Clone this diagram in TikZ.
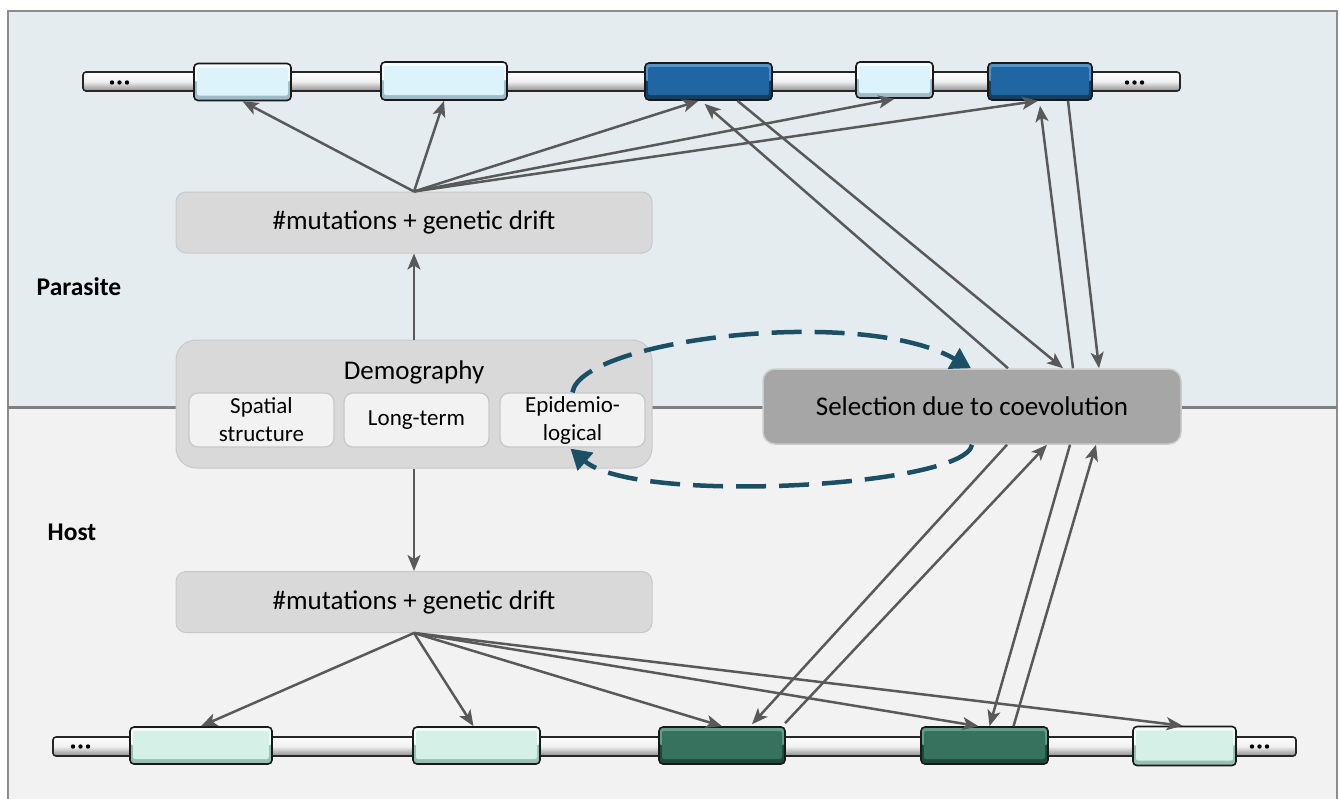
\documentclass[tikz,border=0pt]{standalone}
\usepackage{fontspec}
\setmainfont{Carlito}
\usetikzlibrary{arrows.meta,calc}
\definecolor{topbg}{HTML}{E4ECF0}
\definecolor{botbg}{HTML}{F2F2F2}
\definecolor{framegray}{HTML}{8C8C8C}
\definecolor{divgray}{HTML}{7F7F7F}
\definecolor{arrgray}{HTML}{595959}
\definecolor{teal1}{HTML}{1B4F66}
\definecolor{boxgray}{HTML}{D9D9D9}
\definecolor{boxedge}{HTML}{C8C8C8}
\definecolor{subfill}{HTML}{F2F2F2}
\definecolor{selfill}{HTML}{A6A6A6}
\definecolor{lbBase}{HTML}{DDF3FB}
\definecolor{lbLight}{HTML}{F6FCFE}
\definecolor{lbDark}{HTML}{9DBCC8}
\definecolor{dbBase}{HTML}{1F66A3}
\definecolor{dbLight}{HTML}{5592C8}
\definecolor{dbDark}{HTML}{123F66}
\definecolor{mBase}{HTML}{D4F0E7}
\definecolor{mLight}{HTML}{F3FCF9}
\definecolor{mDark}{HTML}{98C0B2}
\definecolor{dgBase}{HTML}{37725F}
\definecolor{dgLight}{HTML}{629E8A}
\definecolor{dgDark}{HTML}{1E4A3C}
\newcommand\genebox[8]{%
  \node[gene, minimum width=#4pt, minimum height=#5pt, fill=#8,
    path picture={
      \fill[#7] (path picture bounding box.north west) rectangle (path picture bounding box.east);
      \fill[#6, rounded corners=2pt] ([shift={(3pt,5pt)}]path picture bounding box.south west) rectangle ([shift={(-3pt,-4pt)}]path picture bounding box.north east);
    }] (#1) at (#2,#3) {};}
\begin{document}
\begin{tikzpicture}[x=1pt,y=-1pt,
  gene/.style={draw=black!90, line width=1.6pt, rounded corners=4pt, inner sep=0pt},
  chrom/.style={draw=black!85, line width=1.6pt, rounded corners=3pt, inner sep=0pt,
    top color=white, bottom color=black!45, middle color=black!6},
  mutbox/.style={draw=boxedge, fill=boxgray, line width=1pt, rounded corners=10pt,
    minimum width=476pt, minimum height=61pt, inner sep=0pt,
    font=\fontsize{27}{32}\selectfont},
  demobox/.style={draw=boxedge, fill=boxgray, line width=1pt, rounded corners=20pt,
    minimum width=476pt, minimum height=128pt, inner sep=0pt},
  subbox/.style={draw=black!22, fill=subfill, line width=1.2pt, rounded corners=9pt,
    minimum width=145pt, minimum height=54pt, inner sep=0pt, align=center,
    font=\fontsize{23}{28}\selectfont},
  selbox/.style={draw=black!20, fill=selfill, line width=1.5pt, rounded corners=12pt,
    minimum width=418pt, minimum height=75pt, inner sep=0pt,
    font=\fontsize{27}{32}\selectfont},
  lab/.style={font=\fontsize{25.5}{30}\selectfont\bfseries, inner sep=0pt},
  txt/.style={font=\fontsize{27}{32}\selectfont, inner sep=0pt},
  arr/.style={draw=arrgray, line width=2.5pt, -{Stealth[length=16pt,width=13pt,inset=4pt]}},
  dasharr/.style={draw=teal1, line width=4.5pt, dash pattern=on 30pt off 13pt,
    -{Triangle[length=20pt,width=23pt]}}
]
\useasboundingbox (0,0) rectangle (1340,798);
% backgrounds
\fill[topbg] (8,11) rectangle (1337,407);
\fill[botbg] (8,407) rectangle (1337,812);
\draw[framegray, line width=2pt] (8,812) -- (8,11) -- (1337,11) -- (1337,812);
\draw[divgray, line width=3pt] (8,407) -- (1337,407);

% labels
\node[lab] (par) at (79,287) {Parasite};
\node[lab] (host) at (72,532) {Host};

% chromosomes
\node[chrom, minimum width=1097pt, minimum height=19pt] (topchr) at (631.5,81.5) {};
\node[chrom, minimum width=1243pt, minimum height=19pt] (botchr) at (674.5,746.5) {};
\foreach \x in {112,119.5,127} \fill (\x,82.5) circle (2.2pt);
\foreach \x in {1127,1134.5,1142} \fill (\x,82.5) circle (2.2pt);
\foreach \x in {73,80.5,88} \fill (\x,746.5) circle (2.2pt);
\foreach \x in {1252,1259.5,1267} \fill (\x,746.5) circle (2.2pt);

% genes (parasite)
\genebox{T1}{242.5}{82}{97}{37}{lbBase}{lbLight}{lbDark}
\genebox{T2}{444}{81}{126}{38}{lbBase}{lbLight}{lbDark}
\genebox{T3}{708.5}{81.5}{127}{37}{dbBase}{dbLight}{dbDark}
\genebox{T4}{894.5}{80}{77}{36}{lbBase}{lbLight}{lbDark}
\genebox{T5}{1040}{81.5}{104}{37}{dbBase}{dbLight}{dbDark}
% genes (host)
\genebox{B1}{201}{745.5}{142}{37}{mBase}{mLight}{mDark}
\genebox{B2}{476.5}{745.5}{127}{37}{mBase}{mLight}{mDark}
\genebox{B3}{722}{745.5}{126}{37}{dgBase}{dgLight}{dgDark}
\genebox{B4}{984.5}{745.5}{127}{37}{dgBase}{dgLight}{dgDark}
\genebox{B5}{1184.5}{746}{103}{39}{mBase}{mLight}{mDark}

% boxes
\node[mutbox] (M1) at (414,222.5) {\#mutations + genetic drift};
\node[mutbox] (M2) at (414,602) {\#mutations + genetic drift};
\node[demobox] (D) at (414,404) {};
\node[txt] (demotxt) at (414,372) {Demography};
\node[subbox] (SS) at (261.5,420) {Spatial\\structure};
\node[subbox] (LT) at (416.5,420) {Long-term};
\node[subbox] (EP) at (572.5,420) {Epidemio-\\logical};
\node[selbox] (S) at (972,406.5) {Selection due to coevolution};

% demography arrows
\draw[arr] (D.north) -- (M1.south);
\draw[arr] (D.south) -- (M2.north);

% mutation arrows (parasite)
\draw[arr] (M1.north) -- (T1.south);
\draw[arr] (M1.north) -- (T2.south);
\draw[arr] (M1.north) -- ([xshift=-10pt]T3.south);
\draw[arr] (M1.north) -- (T4.south);
\draw[arr] (M1.north) -- ([xshift=-2pt]T5.south);
% mutation arrows (host)
\draw[arr] (M2.south) -- (B1.north);
\draw[arr] (M2.south) -- ([xshift=-3pt]B2.north);
\draw[arr] (M2.south) -- (B3.north);
\draw[arr] (M2.south) -- ([xshift=-6pt]B4.north);
\draw[arr] (M2.south) -- ([xshift=-2pt]B5.north);

% selection arrows (parasite)
\draw[arr] ([xshift=36pt]S.north) -- ([xshift=-4pt,yshift=-3pt]T3.south);
\draw[arr] ([xshift=29pt]T3.south) -- ([xshift=91pt]S.north);
\draw[arr] ([xshift=101pt]S.north) -- ([yshift=-5pt]T5.south);
\draw[arr] ([xshift=28pt]T5.south) -- ([xshift=127pt]S.north);
% selection arrows (host)
\draw[arr] ([xshift=35pt]S.south) -- ([xshift=30pt,yshift=2pt]B3.north);
\draw[arr] ([xshift=63pt,yshift=3pt]B3.north) -- ([xshift=75pt]S.south);
\draw[arr] ([xshift=98pt]S.south) -- ([xshift=5pt]B4.north);
\draw[arr] ([xshift=29pt]B4.north) -- ([xshift=124pt]S.south);

% feedback dashed arrows
\draw[dasharr] (EP.north) .. controls (580,340) and (860,305) .. ([xshift=-1pt]S.north);
\draw[dasharr] (S.south) .. controls (965,487) and (635,505) .. ([xshift=-2pt,yshift=-1pt]EP.south);
\end{tikzpicture}
\end{document}
